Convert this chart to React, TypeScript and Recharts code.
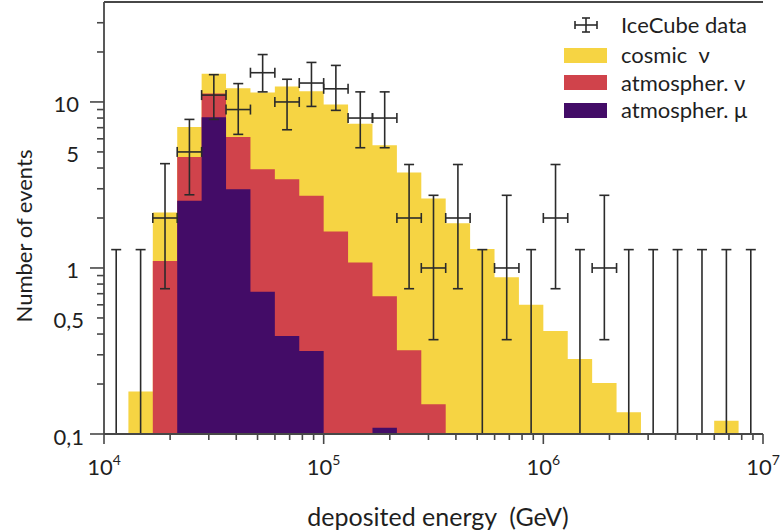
import React from 'react';
import { ComposedChart, Area, Scatter, ErrorBar, XAxis, YAxis, Legend } from 'recharts';

// Bin edges (GeV), 9 log-bins per decade
const binEdges = [
  1.0e4, 1.2915e4, 1.6681e4, 2.1544e4, 2.7826e4, 3.5938e4, 4.6416e4, 5.9948e4, 7.7426e4,
  1.0e5, 1.2915e5, 1.6681e5, 2.1544e5, 2.7826e5, 3.5938e5, 4.6416e5, 5.9948e5, 7.7426e5,
  1.0e6, 1.2915e6, 1.6681e6, 2.1544e6, 2.7826e6, 3.5938e6, 4.6416e6, 5.9948e6, 7.7426e6,
  1.0e7,
];

// Stacked histogram tops (events per bin); 0 = nothing visible
const cosmicTop = [0, 0.18, 2.16, 7.06, 14.8, 12.1, 11.4, 12.4, 11.6, 9.66, 7.4, 5.48, 3.76, 2.62, 1.86, 1.3, 0.88, 0.6, 0.417, 0.283, 0.203, 0.135, 0, 0, 0, 0.12, 0];
const atmNuTop = [0, 0, 1.1, 4.66, 11.25, 6.15, 3.93, 3.42, 2.72, 1.66, 1.08, 0.676, 0.319, 0.151, 0, 0, 0, 0, 0, 0, 0, 0, 0, 0, 0, 0, 0];
const atmMuTop = [0, 0, 0, 2.54, 8.1, 2.98, 0.72, 0.389, 0.316, 0, 0, 0.109, 0, 0, 0, 0, 0, 0, 0, 0, 0, 0, 0, 0, 0, 0, 0];

// IceCube data: counts per bin (null = upper limit only), with error range
const dataCounts = [null, null, 2, 5, 11, 9, 15, 10, 13, 12, 8, 8, 2, 1, 2, null, 1, null, 2, null, 1, null, null, null, null, null, null];
const dataLow = [null, null, 0.75, 2.76, 7.85, 6.38, 11.5, 6.8, 9.4, 8.9, 5.3, 5.3, 0.75, 0.37, 0.75, null, 0.37, null, 0.75, null, 0.37, null, null, null, null, null, null];
const dataHigh = [null, null, 4.25, 7.85, 14.6, 12.9, 19.3, 13.7, 17.3, 16.6, 11.5, 11.5, 4.2, 2.74, 4.2, null, 2.74, null, 4.2, null, 2.74, null, null, null, null, null, null];
const upperLimit = 1.29;

const xTicks = [
  1e4, 2e4, 3e4, 4e4, 5e4, 6e4, 7e4, 8e4, 9e4,
  1e5, 2e5, 3e5, 4e5, 5e5, 6e5, 7e5, 8e5, 9e5,
  1e6, 2e6, 3e6, 4e6, 5e6, 6e6, 7e6, 8e6, 9e6,
  1e7,
];
const xMajor = [1e4, 1e5, 1e6, 1e7];
const xMajorExp = ['4', '5', '6', '7'];
const yTicks = [0.1, 0.2, 0.3, 0.4, 0.5, 0.6, 0.7, 0.8, 0.9, 1, 2, 3, 4, 5, 6, 7, 8, 9, 10, 20, 30];
const yMajor = [0.1, 1, 10];
const yLabelValues = [0.1, 0.5, 1, 5, 10];
const yLabelTexts = ['0,1', '0,5', '1', '5', '10'];

const legendLabels = ['IceCube data', 'cosmic  \u03bd', 'atmospher. \u03bd', 'atmospher. \u03bc'];

const X_DOMAIN = [1e4, 1e7];
const Y_DOMAIN = [0.1, 40];
const FLOOR = 0.1;

const YELLOW = '#F6D443';
const RED = '#D0434B';
const PURPLE = '#430C67';
const AXIS = '#474747';
const TEXT = '#1f1f1f';
const ERR = '#2b2b2b';
const FONT = 'Lato, "Open Sans", sans-serif';

const floor = (v: number) => (v > FLOOR ? v : FLOOR);

const histData = binEdges.map((e, k) => {
  const i = Math.min(k, cosmicTop.length - 1);
  return { e, total: floor(cosmicTop[i]), nu: floor(atmNuTop[i]), mu: floor(atmMuTop[i]) };
});

const pointsData: any[] = [];
const limitsData: any[] = [];
dataCounts.forEach((c, k) => {
  const lo = binEdges[k];
  const hi = binEdges[k + 1];
  const center = Math.sqrt(lo * hi);
  if (c === null) {
    limitsData.push({ e: center, y: FLOOR, ey: [0, upperLimit - FLOOR] });
  } else {
    pointsData.push({
      e: center,
      y: c,
      ex: [center - lo, hi - center],
      ey: [c - (dataLow[k] as number), (dataHigh[k] as number) - c],
    });
  }
});

const XTick = (props: any) => {
  const { x, y, payload } = props;
  const idx = xMajor.indexOf(payload.value);
  const major = idx >= 0;
  return (
    <g>
      <line x1={x} x2={x} y1={y} y2={y + (major ? 10 : 6)} stroke={AXIS} strokeWidth={1.6} />
      {major && (
        <text x={x} y={y + 41} textAnchor="middle" fontFamily={FONT} fontSize={22} fill={TEXT}>
          10
          <tspan dy={-10} fontSize={14}>
            {xMajorExp[idx]}
          </tspan>
        </text>
      )}
    </g>
  );
};

const YTick = (props: any) => {
  const { x, y, payload } = props;
  const v = payload.value;
  const major = yMajor.indexOf(v) >= 0;
  const li = yLabelValues.indexOf(v);
  const label = li >= 0 ? yLabelTexts[li] : null;
  return (
    <g>
      <line x1={x} x2={x - (major ? 14 : 7)} y1={y} y2={y} stroke={AXIS} strokeWidth={1.6} />
      {label && (
        <text
          x={label.indexOf(',') >= 0 ? 84 : 79}
          y={y + 2}
          textAnchor="end"
          dominantBaseline="central"
          fontFamily={FONT}
          fontSize={22}
          fill={TEXT}
        >
          {label}
        </text>
      )}
    </g>
  );
};

const YTitle = () => (
  <text
    x={23}
    y={236}
    transform="rotate(-90, 23, 236)"
    textAnchor="middle"
    dominantBaseline="central"
    fontFamily={FONT}
    fontSize={22}
    fill={TEXT}
  >
    Number of events
  </text>
);

const XTitle = () => (
  <text
    x={438}
    y={516}
    textAnchor="middle"
    dominantBaseline="central"
    fontFamily={FONT}
    fontSize={25}
    fill={TEXT}
    xmlSpace="preserve"
    style={{ whiteSpace: 'pre' }}
  >
    {'deposited energy  (GeV)'}
  </text>
);

const LegendContent = () => {
  const swatches = [null, YELLOW, RED, PURPLE];
  const tops = [0, 30, 57.5, 85];
  return (
    <div style={{ position: 'relative', width: 210, height: 120, fontFamily: FONT, fontSize: 22, color: TEXT }}>
      {legendLabels.map((lab, i) => (
        <div key={lab} style={{ position: 'absolute', left: 0, top: tops[i], height: 28, display: 'flex', alignItems: 'center' }}>
          <div style={{ width: 43, height: 28, display: 'flex', alignItems: 'center', justifyContent: 'center' }}>
            {swatches[i] ? (
              <div style={{ width: 43, height: 15, background: swatches[i] as string }} />
            ) : (
              <svg width={26} height={18}>
                <line x1={2} x2={24} y1={9} y2={9} stroke={ERR} strokeWidth={1.6} />
                <line x1={2} x2={2} y1={5} y2={13} stroke={ERR} strokeWidth={1.6} />
                <line x1={24} x2={24} y1={5} y2={13} stroke={ERR} strokeWidth={1.6} />
                <line x1={13} x2={13} y1={2} y2={16} stroke={ERR} strokeWidth={1.6} />
                <line x1={9} x2={17} y1={2} y2={2} stroke={ERR} strokeWidth={1.6} />
                <line x1={9} x2={17} y1={16} y2={16} stroke={ERR} strokeWidth={1.6} />
              </svg>
            )}
          </div>
          <span style={{ marginLeft: 14, whiteSpace: 'pre', lineHeight: '28px' }}>{lab}</span>
        </div>
      ))}
    </div>
  );
};

const noShape = () => <g />;

export default function App() {
  return (
    <div style={{ position: 'absolute', left: 0, top: 0, width: 782, height: 531, background: '#fff' }}>
      <ComposedChart
        width={782}
        height={531}
        data={histData}
        margin={{ top: 1, right: 19, left: 0, bottom: 0 }}
      >
        <XAxis
          dataKey="e"
          type="number"
          scale="log"
          domain={X_DOMAIN}
          allowDataOverflow
          ticks={xTicks}
          interval={0}
          tickSize={0}
          tickMargin={0}
          tick={<XTick />}
          height={97}
          axisLine={{ stroke: AXIS, strokeWidth: 1.8 }}
          label={<XTitle />}
        />
        <XAxis
          xAxisId="top"
          orientation="top"
          type="number"
          domain={[0, 1]}
          height={1}
          tick={false}
          tickLine={false}
          axisLine={{ stroke: AXIS, strokeWidth: 2 }}
        />
        <YAxis
          type="number"
          scale="log"
          domain={Y_DOMAIN}
          allowDataOverflow
          ticks={yTicks}
          interval={0}
          tickSize={0}
          tickMargin={0}
          tick={<YTick />}
          width={104}
          axisLine={{ stroke: AXIS, strokeWidth: 1.8 }}
          label={<YTitle />}
        />
        <YAxis
          yAxisId="right"
          orientation="right"
          type="number"
          domain={[0, 1]}
          width={0}
          tick={false}
          tickLine={false}
          axisLine={{ stroke: AXIS, strokeWidth: 1.8 }}
        />
        <Area
          type="stepAfter"
          dataKey="total"
          name="cosmic nu"
          fill={YELLOW}
          fillOpacity={1}
          stroke="none"
          baseValue={FLOOR}
          dot={false}
          activeDot={false}
          isAnimationActive={false}
        />
        <Area
          type="stepAfter"
          dataKey="nu"
          name="atmospheric nu"
          fill={RED}
          fillOpacity={1}
          stroke="none"
          baseValue={FLOOR}
          dot={false}
          activeDot={false}
          isAnimationActive={false}
        />
        <Area
          type="stepAfter"
          dataKey="mu"
          name="atmospheric mu"
          fill={PURPLE}
          fillOpacity={1}
          stroke="none"
          baseValue={FLOOR}
          dot={false}
          activeDot={false}
          isAnimationActive={false}
        />
        <Scatter data={pointsData} dataKey="y" name="IceCube data" shape={noShape} isAnimationActive={false}>
          <ErrorBar dataKey="ey" direction="y" width={5} stroke={ERR} strokeWidth={1.6} />
          <ErrorBar dataKey="ex" direction="x" width={5} stroke={ERR} strokeWidth={1.6} />
        </Scatter>
        <Scatter data={limitsData} dataKey="y" name="upper limits" shape={noShape} isAnimationActive={false}>
          <ErrorBar dataKey="ey" direction="y" width={5} stroke={ERR} strokeWidth={1.6} />
        </Scatter>
        <Legend
          layout="vertical"
          align="center"
          verticalAlign="middle"
          content={<LegendContent />}
          wrapperStyle={{ left: 564, top: 11, width: 210, height: 120 }}
        />
      </ComposedChart>
    </div>
  );
}
